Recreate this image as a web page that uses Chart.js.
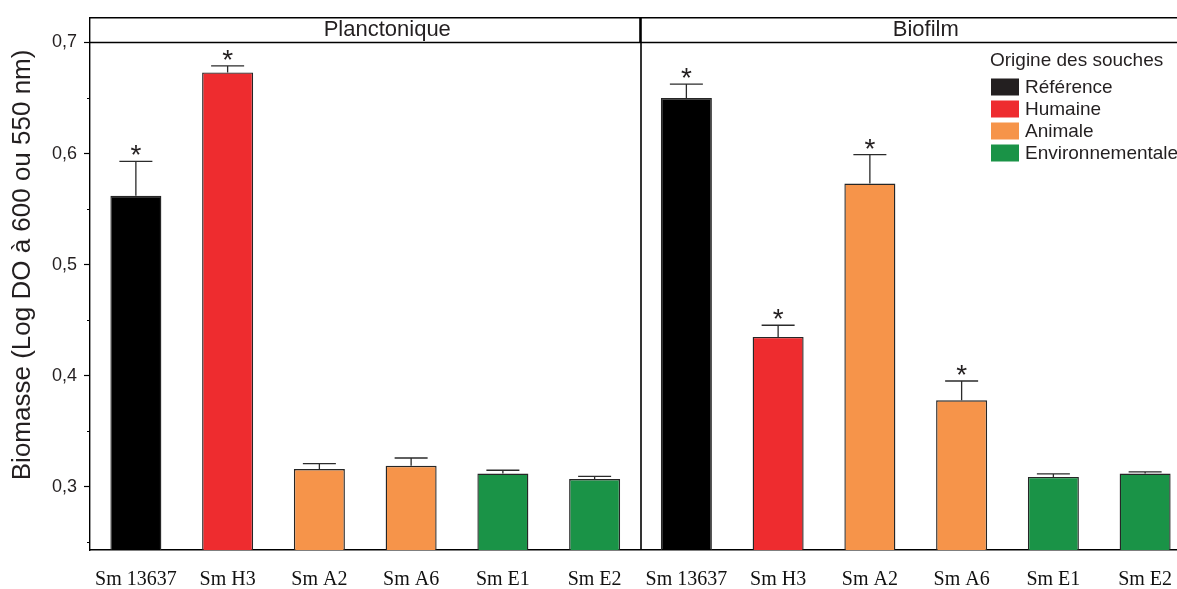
<!DOCTYPE html>
<html lang="fr">
<head>
<meta charset="utf-8">
<title>Biomasse planctonique et biofilm</title>
<script src="https://cdn.jsdelivr.net/npm/chart.js@4.4.0/dist/chart.umd.min.js"></script>
<style>
html, body { margin: 0; padding: 0; background: #fff; overflow: hidden; }
#wrap { width: 1177px; height: 589px; overflow: hidden; }
canvas { display: block; }
</style>
</head>
<body>
<div id="wrap"><canvas id="c" width="1195" height="589"></canvas></div>
<script>
// Souches testées et leur origine
const souches = ['Sm 13637', 'Sm H3', 'Sm A2', 'Sm A6', 'Sm E1', 'Sm E2'];
const origine = ['Référence', 'Humaine', 'Animale', 'Animale', 'Environnementale', 'Environnementale'];

// Biomasse (Log DO) : moyennes et écarts
const planctonique       = [0.562, 0.673, 0.316, 0.319, 0.312, 0.307];
const planctoniqueErreur = [0.031, 0.006, 0.005, 0.007, 0.003, 0.0024];
const planctoniqueSignif = [true, true, false, false, false, false];

const biofilm       = [0.650, 0.435, 0.573, 0.378, 0.309, 0.312];
const biofilmErreur = [0.0125, 0.0105, 0.026, 0.0173, 0.0027, 0.0015];
const biofilmSignif = [true, true, true, true, false, false];

const panneauxTitres = ['Planctonique', 'Biofilm'];
const legendeOrigines = ['Référence', 'Humaine', 'Animale', 'Environnementale'];
const legendeTitre = 'Origine des souches';
const yTitre = 'Biomasse (Log DO à 600 ou 550 nm)';

const couleurParOrigine = {
  'Référence': '#000000',
  'Humaine': '#ee2c2f',
  'Animale': '#f6944a',
  'Environnementale': '#1a9347'
};
const legendeCouleurs = {
  'Référence': '#231f20',
  'Humaine': '#ee2c2f',
  'Animale': '#f6944a',
  'Environnementale': '#1a9347'
};

// Les deux panneaux partagent un seul axe de catégories
const etiquettes = souches.concat(souches);
const valeurs = planctonique.concat(biofilm);
const erreurs = planctoniqueErreur.concat(biofilmErreur);
const etoiles = planctoniqueSignif.concat(biofilmSignif);
const couleurs = origine.concat(origine).map(o => couleurParOrigine[o]);

const SANS = '"Liberation Sans", Arial, Helvetica, sans-serif';
const SERIF = '"Liberation Serif", "Times New Roman", serif';
const TEXTE = '#231f20';

const estMajeur = v => Math.round(v * 100) % 10 === 0;

const panneaux = {
  id: 'panneaux',
  afterDatasetsDraw(chart) {
    const { ctx } = chart;
    const y = chart.scales.y;
    const meta = chart.getDatasetMeta(0);
    ctx.save();
    ctx.strokeStyle = '#2b2b2b';
    ctx.lineWidth = 1.3;
    ctx.fillStyle = TEXTE;
    ctx.font = '28px ' + SANS;
    ctx.textAlign = 'center';
    ctx.textBaseline = 'alphabetic';
    meta.data.forEach((bar, i) => {
      const yHaut = y.getPixelForValue(valeurs[i]);
      const yCap = y.getPixelForValue(valeurs[i] + erreurs[i]);
      ctx.beginPath();
      ctx.moveTo(bar.x, yHaut);
      ctx.lineTo(bar.x, yCap);
      ctx.moveTo(bar.x - 16.5, yCap);
      ctx.lineTo(bar.x + 16.5, yCap);
      ctx.stroke();
      if (etoiles[i]) ctx.fillText('*', bar.x, yCap + 3);
    });
    ctx.restore();
  },
  afterDraw(chart) {
    const { ctx, chartArea } = chart;
    const x = chart.scales.x;
    const y = chart.scales.y;
    const haut = chartArea.top;
    const bas = chartArea.bottom;
    const yBandeau = y.getPixelForValue(0.7);
    const xSep = (x.getPixelForValue(5) + x.getPixelForValue(6)) / 2;

    ctx.save();
    ctx.strokeStyle = '#000';
    ctx.lineWidth = 1.4;
    // cadre supérieur et bandeau des titres
    ctx.beginPath();
    ctx.moveTo(chartArea.left, haut);
    ctx.lineTo(chart.width, haut);
    ctx.moveTo(chartArea.left, yBandeau);
    ctx.lineTo(chart.width, yBandeau);
    ctx.stroke();
    // séparation des panneaux
    ctx.lineWidth = 1.6;
    ctx.beginPath();
    ctx.moveTo(xSep + 0.5, yBandeau);
    ctx.lineTo(xSep + 0.5, bas);
    ctx.stroke();
    ctx.lineWidth = 2.6;
    ctx.beginPath();
    ctx.moveTo(xSep, haut);
    ctx.lineTo(xSep, yBandeau);
    ctx.stroke();

    // graduations secondaires
    ctx.lineWidth = 1.2;
    ctx.beginPath();
    y.ticks.forEach(t => {
      if (!estMajeur(t.value)) {
        const py = Math.round(y.getPixelForValue(t.value)) + 0.5;
        ctx.moveTo(chartArea.left - 3, py);
        ctx.lineTo(chartArea.left, py);
      }
    });
    ctx.stroke();

    // titre de l'axe des ordonnées
    ctx.fillStyle = TEXTE;
    ctx.save();
    ctx.translate(23, (haut + bas) / 2 - 19);
    ctx.rotate(-Math.PI / 2);
    ctx.font = '26px ' + SANS;
    ctx.textAlign = 'center';
    ctx.textBaseline = 'middle';
    ctx.fillText(yTitre, 0, 0);
    ctx.restore();

    // titres des panneaux
    ctx.font = '22px ' + SANS;
    ctx.textAlign = 'center';
    ctx.textBaseline = 'middle';
    const yT = (haut + yBandeau) / 2;
    ctx.fillText(panneauxTitres[0], (chartArea.left + xSep) / 2 + 22, yT);
    ctx.fillText(panneauxTitres[1], (xSep + chartArea.right) / 2 + 10, yT);

    // légende
    const lx = 991;
    ctx.textAlign = 'left';
    ctx.font = '19px ' + SANS;
    ctx.fillText(legendeTitre, lx - 1, 61);
    legendeOrigines.forEach((o, k) => {
      const cy = 87 + k * 22;
      ctx.fillStyle = legendeCouleurs[o];
      ctx.fillRect(lx, cy - 8.5, 28, 17);
      ctx.fillStyle = TEXTE;
      ctx.fillText(o, lx + 34, cy + 1);
    });
    ctx.restore();
  }
};

new Chart(document.getElementById('c').getContext('2d'), {
  type: 'bar',
  data: {
    labels: etiquettes,
    datasets: [{
      data: valeurs,
      backgroundColor: couleurs,
      borderColor: '#262626',
      borderWidth: 1.4,
      borderSkipped: 'start',
      categoryPercentage: 1,
      barPercentage: 0.556
    }]
  },
  options: {
    responsive: false,
    animation: false,
    devicePixelRatio: 1,
    layout: { padding: { top: 16, right: 4, left: 0, bottom: 0 } },
    plugins: { legend: { display: false }, tooltip: { enabled: false } },
    scales: {
      x: {
        type: 'category',
        offset: true,
        grid: { display: false, drawTicks: false },
        border: { display: true, color: '#000', width: 1.4 },
        ticks: {
          font: { family: SERIF, size: 20 },
          color: '#111',
          padding: 18,
          maxRotation: 0,
          autoSkip: false
        },
        afterFit(s) { s.height = 39; }
      },
      y: {
        min: 0.2432,
        max: 0.7222,
        ticks: {
          stepSize: 0.05,
          includeBounds: false,
          font: { family: SANS, size: 18 },
          color: TEXTE,
          padding: 7,
          callback(v) {
            return estMajeur(v) ? (Math.round(v * 10) / 10).toFixed(1).replace('.', ',') : '';
          }
        },
        grid: {
          drawOnChartArea: false,
          drawTicks: true,
          tickLength: 6,
          tickWidth: 1.2,
          tickColor: c => (c.tick && estMajeur(c.tick.value)) ? '#000' : 'rgba(0,0,0,0)'
        },
        border: { display: true, color: '#000', width: 1.4 },
        title: { display: false },
        afterFit(s) { s.width = 90; }
      }
    }
  },
  plugins: [panneaux]
});
</script>
</body>
</html>
